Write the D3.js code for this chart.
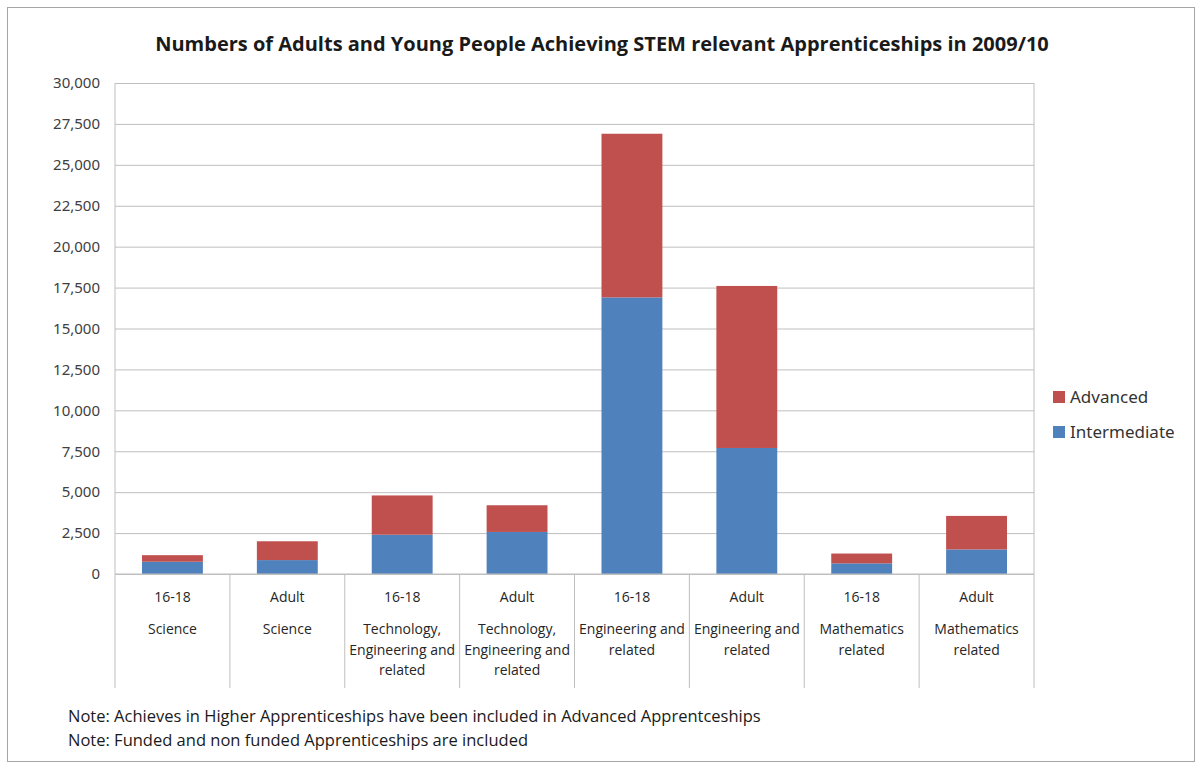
<!DOCTYPE html>
<html>
<head>
<meta charset="utf-8">
<script src="https://cdn.jsdelivr.net/npm/d3@7"></script>
<style>
  body { margin: 0; background: #fff; }
  svg { display: block; }
  .tick text { font-family: "Noto Sans", "Open Sans", sans-serif; fill: #404040; }
</style>
</head>
<body>
<svg id="chart" width="1202" height="765"></svg>
<script>
const ageGroups = ['16-18', 'Adult', '16-18', 'Adult', '16-18', 'Adult', '16-18', 'Adult'];
const subjects = [
  ['Science'], ['Science'],
  ['Technology,', 'Engineering and', 'related'], ['Technology,', 'Engineering and', 'related'],
  ['Engineering and', 'related'], ['Engineering and', 'related'],
  ['Mathematics', 'related'], ['Mathematics', 'related']
];
const intermediate = [750, 850, 2400, 2570, 16900, 7700, 650, 1500];
const advanced = [400, 1150, 2400, 1630, 10000, 9900, 600, 2050];
const yTicks = [0, 2500, 5000, 7500, 10000, 12500, 15000, 17500, 20000, 22500, 25000, 27500, 30000];
const seriesNames = ['Intermediate', 'Advanced'];
const colors = { Intermediate: '#4F81BD', Advanced: '#C0504D' };
const notes = [
  'Note: Achieves in Higher Apprenticeships have been included in Advanced Apprentceships',
  'Note: Funded and non funded Apprenticeships are included'
];

const svg = d3.select('#chart');
const margin = { left: 115, top: 83, right: 1034, bottom: 574 };
const gridCol = '#bfbfbf';

// outer frame
svg.append('rect').attr('x', 7.5).attr('y', 7.5).attr('width', 1187).attr('height', 754)
  .attr('fill', 'none').attr('stroke', '#a6a6a6');

svg.append('text').attr('x', 602).attr('y', 51).attr('text-anchor', 'middle')
  .style('font-family', '"Open Sans", sans-serif').style('font-weight', 'bold').style('font-size', '20px')
  .attr('fill', '#1a1a1a')
  .text('Numbers of Adults and Young People Achieving STEM relevant Apprenticeships in 2009/10');

const idx = d3.range(ageGroups.length);
const x = d3.scaleBand().domain(idx).range([margin.left, margin.right]).paddingInner(0.47).paddingOuter(0.235);
const xCat = d3.scaleBand().domain(idx).range([margin.left, margin.right]);
const y = d3.scaleLinear().domain([0, 30000]).range([margin.bottom, margin.top]);

// gridlines + y axis
const yAxis = svg.append('g').attr('transform', `translate(${margin.left},0)`)
  .call(d3.axisLeft(y).tickValues(yTicks).tickFormat(d3.format(',')).tickSize(-(margin.right - margin.left)).tickPadding(15));
yAxis.select('.domain').remove();
yAxis.selectAll('.tick line').attr('stroke', gridCol);
yAxis.selectAll('.tick text').style('font-size', '15px');

// bars
const table = idx.map(i => ({ i, Intermediate: intermediate[i], Advanced: advanced[i] }));
const stacked = d3.stack().keys(seriesNames)(table);
svg.append('g').selectAll('g').data(stacked).join('g')
  .attr('fill', d => colors[d.key])
  .selectAll('rect').data(d => d).join('rect')
  .attr('x', d => x(d.data.i))
  .attr('width', x.bandwidth())
  .attr('y', d => y(d[1]))
  .attr('height', d => y(d[0]) - y(d[1]));

// plot frame left/right and category table lines
svg.append('line').attr('x1', margin.left).attr('x2', margin.left).attr('y1', margin.top).attr('y2', 688).attr('stroke', gridCol);
svg.append('line').attr('x1', margin.right).attr('x2', margin.right).attr('y1', margin.top).attr('y2', 688).attr('stroke', gridCol);
svg.append('line').attr('x1', margin.left).attr('x2', margin.right).attr('y1', margin.bottom).attr('y2', margin.bottom).attr('stroke', gridCol);
svg.append('g').selectAll('line').data(idx.slice(1)).join('line')
  .attr('x1', d => xCat(d)).attr('x2', d => xCat(d))
  .attr('y1', margin.bottom).attr('y2', 688).attr('stroke', gridCol);

// category labels
const labelFont = '"Open Sans", sans-serif';
const cats = svg.append('g').selectAll('g').data(idx).join('g')
  .attr('transform', d => `translate(${xCat(d) + xCat.bandwidth() / 2},0)`)
  .style('font-family', labelFont).style('font-size', '14px').attr('fill', '#262626')
  .attr('text-anchor', 'middle');
cats.append('text').attr('y', 602).text(d => ageGroups[d]);
cats.each(function (d) {
  d3.select(this).selectAll('text.sub').data(subjects[d]).join('text').attr('class', 'sub')
    .attr('y', (s, k) => 634 + k * 20.5).text(s => s);
});

// legend
const legend = svg.append('g').selectAll('g').data(['Advanced', 'Intermediate']).join('g')
  .attr('transform', (d, k) => `translate(1053,${397 + k * 35})`);
legend.append('rect').attr('x', 0).attr('y', -6).attr('width', 12).attr('height', 12).attr('fill', d => colors[d]);
legend.append('text').attr('x', 17).attr('y', 6)
  .style('font-family', '"Noto Sans", sans-serif').style('font-size', '17px').attr('fill', '#333').text(d => d);

// notes
svg.append('g').selectAll('text').data(notes).join('text')
  .attr('x', 68).attr('y', (d, k) => 722 + k * 24)
  .style('font-family', labelFont).style('font-size', '16.5px').attr('fill', '#1a1a1a').text(d => d);
</script>
</body>
</html>
